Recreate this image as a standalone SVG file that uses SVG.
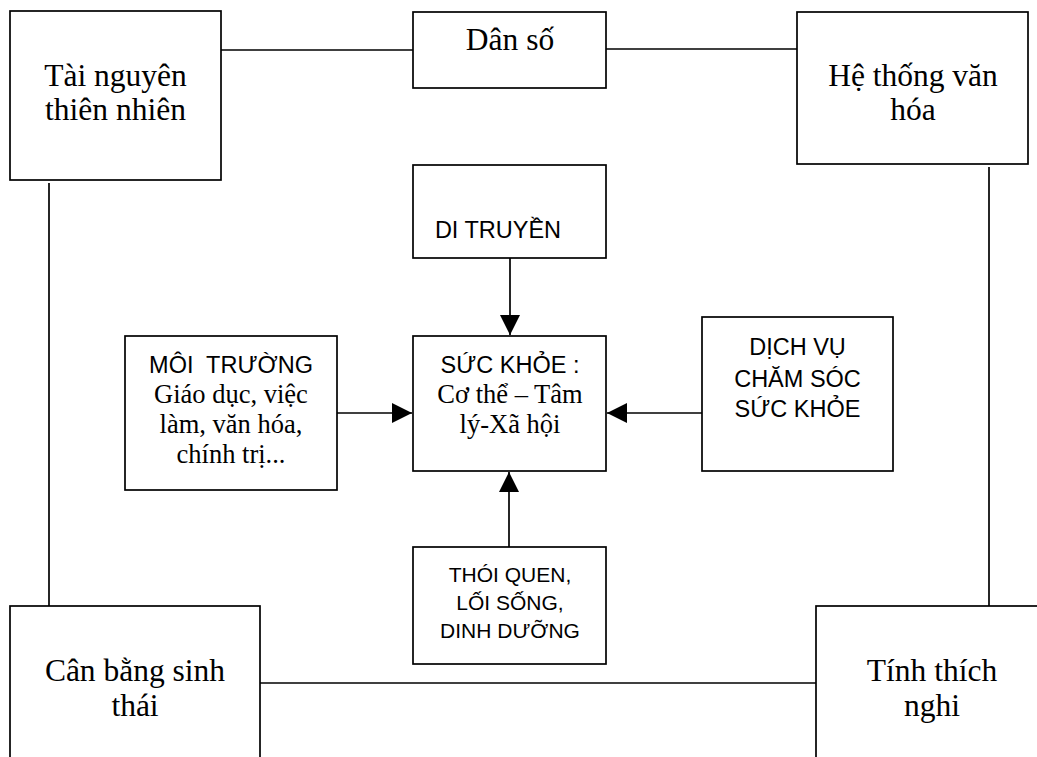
<svg xmlns="http://www.w3.org/2000/svg" width="1037" height="757" viewBox="0 0 1037 757">
<style>
.box{fill:#fff;stroke:#000;stroke-width:1.7}
.ln{fill:none;stroke:#000;stroke-width:1.7}
.tb{font-family:"Liberation Serif","Times New Roman",serif;font-size:31.5px;fill:#000;text-anchor:middle}
.tm{font-family:"Liberation Serif","Times New Roman",serif;font-size:26.5px;fill:#000;text-anchor:middle}
.a{font-family:"Liberation Sans",Arial,sans-serif;font-size:23.5px;fill:#000;text-anchor:middle}
.as{font-family:"Liberation Sans",Arial,sans-serif;font-size:21px;fill:#000;text-anchor:middle}
</style>
<defs>
<marker id="arr" viewBox="0 0 20 20" refX="20" refY="10" markerWidth="20" markerHeight="20" markerUnits="userSpaceOnUse" orient="auto">
<path d="M0,0 L20,10 L0,20 z" fill="#000"/>
</marker>
</defs>
<rect width="1037" height="757" fill="#fff"/>
<g id="connectors">
<line class="ln" x1="221" y1="50" x2="413" y2="50"/>
<line class="ln" x1="606" y1="49" x2="797" y2="49"/>
<line class="ln" x1="49" y1="183" x2="49" y2="606"/>
<line class="ln" x1="989" y1="167" x2="989" y2="606"/>
<line class="ln" x1="260" y1="683" x2="816" y2="683"/>
<line class="ln" x1="510" y1="258" x2="510" y2="335" marker-end="url(#arr)"/>
<line class="ln" x1="337" y1="413" x2="412" y2="413" marker-end="url(#arr)"/>
<line class="ln" x1="702" y1="413" x2="607" y2="413" marker-end="url(#arr)"/>
<line class="ln" x1="509" y1="547" x2="509" y2="472" marker-end="url(#arr)"/>
</g>
<g id="tai-nguyen">
<rect class="box" x="10" y="11" width="211" height="169"/>
<text class="tb" x="115.5" y="86">Tài nguyên</text>
<text class="tb" x="115.5" y="120">thiên nhiên</text>
</g>
<g id="dan-so">
<rect class="box" x="413" y="12" width="193" height="76"/>
<text class="tb" x="510" y="50">Dân số</text>
</g>
<g id="he-thong">
<rect class="box" x="797" y="12" width="231" height="152"/>
<text class="tb" x="913" y="86">Hệ thống văn</text>
<text class="tb" x="913" y="120">hóa</text>
</g>
<g id="di-truyen">
<rect class="box" x="413" y="165" width="193" height="93"/>
<text class="a" x="498" y="238">DI TRUYỀN</text>
</g>
<g id="moi-truong">
<rect class="box" x="125" y="336" width="212" height="154"/>
<text class="a" x="231" y="373" xml:space="preserve">MÔI  TRƯỜNG</text>
<text class="tm" x="231" y="403">Giáo dục, việc</text>
<text class="tm" x="231" y="433">làm, văn hóa,</text>
<text class="tm" x="231" y="463">chính trị...</text>
</g>
<g id="suc-khoe">
<rect class="box" x="413" y="336" width="193" height="135"/>
<text class="a" x="510" y="373">SỨC KHỎE :</text>
<text class="tm" x="510" y="403">Cơ thể – Tâm</text>
<text class="tm" x="510" y="433">lý-Xã hội</text>
</g>
<g id="dich-vu">
<rect class="box" x="702" y="317" width="191" height="154"/>
<text class="a" x="797.5" y="355">DỊCH VỤ</text>
<text class="a" x="797.5" y="387">CHĂM SÓC</text>
<text class="a" x="797.5" y="417">SỨC KHỎE</text>
</g>
<g id="thoi-quen">
<rect class="box" x="413" y="547" width="193" height="117"/>
<text class="as" x="510" y="582">THÓI QUEN,</text>
<text class="as" x="510" y="610">LỐI SỐNG,</text>
<text class="as" x="510" y="638">DINH DƯỠNG</text>
</g>
<g id="can-bang">
<rect class="box" x="10" y="606" width="250" height="200"/>
<text class="tb" x="135" y="681">Cân bằng sinh</text>
<text class="tb" x="135" y="716">thái</text>
</g>
<g id="tinh-thich-nghi">
<rect class="box" x="816" y="606" width="240" height="200"/>
<text class="tb" x="932" y="681">Tính thích</text>
<text class="tb" x="932" y="716">nghi</text>
</g>
</svg>
